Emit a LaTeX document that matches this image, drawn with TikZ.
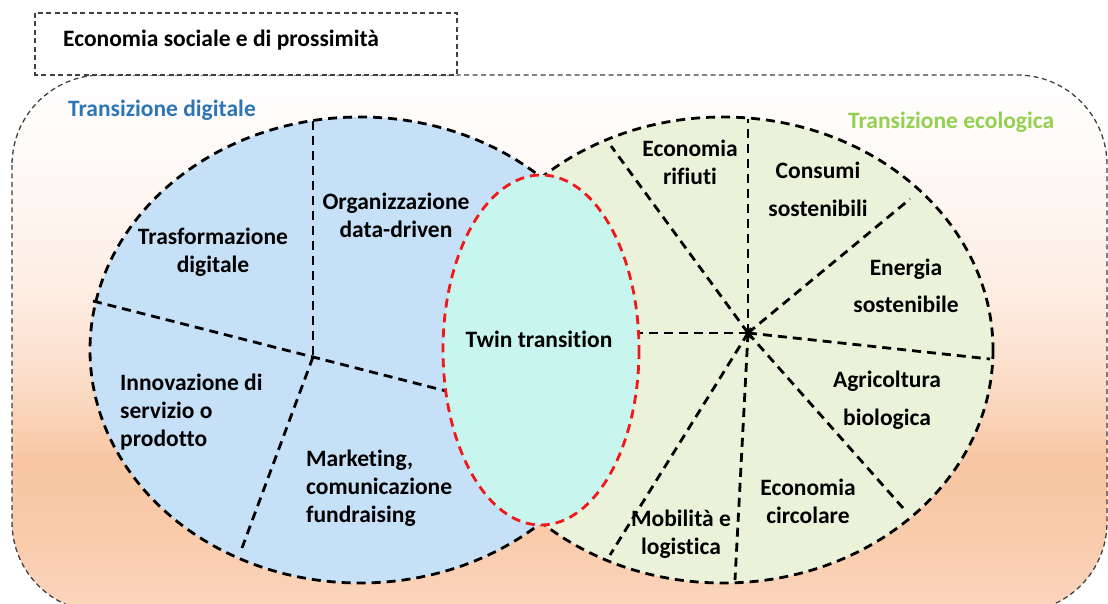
\documentclass[tikz,border=0pt]{standalone}
\usepackage{fontspec}
\setmainfont{Carlito}[Ligatures={NoCommon}]
\usetikzlibrary{calc}
\definecolor{bluefill}{HTML}{C5E0F7}
\definecolor{greenfill}{HTML}{EBF2DA}
\definecolor{cyanfill}{HTML}{C9F5EF}
\definecolor{titleblue}{HTML}{2E75B6}
\definecolor{titlegreen}{HTML}{92D050}
\definecolor{bordergray}{HTML}{404040}
\definecolor{twinred}{HTML}{F01818}
\definecolor{pkA}{HTML}{FBD6BF}
\definecolor{pkB}{HTML}{F9CBAB}
\definecolor{pkC}{HTML}{F8C6A2}
\definecolor{pkD}{HTML}{FBDECA}
\definecolor{pkE}{HTML}{FDEDE3}
\definecolor{pkF}{HTML}{FEF8F4}
\pgfdeclareverticalshading{bgshade}{100bp}{color(0bp)=(pkA); color(25bp)=(pkA); color(32bp)=(pkB); color(39bp)=(pkC); color(47bp)=(pkD); color(55bp)=(pkE); color(65bp)=(pkF); color(75bp)=(white); color(100bp)=(white)}
\begin{document}
\begin{tikzpicture}[x=1pt,y=-1pt,
  lbl/.style={font=\fontsize{23.5}{28}\selectfont\bfseries, align=center, inner sep=0pt, text=black},
  lbll/.style={lbl, align=left},
  thindash/.style={draw=bordergray, line width=1.3pt, dash pattern=on 5pt off 3.5pt},
  thickdash/.style={line width=2.8pt, dash pattern=on 9pt off 6pt},
  divider/.style={draw=black, thickdash}]
\useasboundingbox (0,0) rectangle (1108,604);
% background
\shade[shading=bgshade, rounded corners=90pt] (12,75) rectangle (1107,612);
\draw[thindash, rounded corners=90pt] (12,75) rectangle (1107,612);
% title box
\draw[thindash, fill=white] (35,13) rectangle (457,75);
\node[lbl, anchor=west] (title) at (63,40) {Economia sociale e di prossimità};
% blue ellipse
\coordinate (bcen) at (360,350);
\filldraw[fill=bluefill, draw=black, thickdash] (bcen) ellipse [x radius=270, y radius=233];
\coordinate (bc) at (313,357);
\coordinate (b1) at (313,121);
\coordinate (b2) at (93,301);
\coordinate (b3) at (450,392);
\coordinate (b4) at (242,548);
\draw[divider] (b1) -- (bc);
\draw[divider] (b2) -- (bc) -- (b3);
\draw[divider] (bc) -- (b4);
% green ellipse
\coordinate (gcen) at (723,350);
\filldraw[fill=greenfill, draw=black, thickdash] (gcen) ellipse [x radius=270, y radius=233];
\coordinate (gc) at (748,333);
\foreach \p [count=\i] in {(748,119),(611,146),(910,199),(990,359),(903,508),(735,580),(610,555),(630,333)}
  \draw[divider] (gc) -- \p;
\foreach \a in {0,60,120}
  \draw[line width=2pt] ($(gc)+(\a:6)$) -- ($(gc)+(\a+180:6)$);
% twin ellipse
\coordinate (rcen) at (541,350);
\filldraw[fill=cyanfill, draw=twinred, thickdash] (rcen) ellipse [x radius=98, y radius=175];
% titles
\node[lbl, anchor=west, text=titleblue] (tdig) at (68,110) {Transizione digitale};
\node[lbl, anchor=west, text=titlegreen] (teco) at (848,122) {Transizione ecologica};
% blue labels
\node[lbl] (l1) at (213,252) {Trasformazione\\digitale};
\node[lbl] (l2) at (396,215) {Organizzazione\\data-driven};
\node[lbll, anchor=west] (l3) at (120,412) {Innovazione di\\servizio o\\prodotto};
\node[lbll, anchor=west] (l4) at (306,488) {Marketing,\\comunicazione\\fundraising};
\node[lbl] (twin) at (539,339) {Twin transition};
% green labels
\node[lbl] (g1) at (690,162) {Economia\\rifiuti};
\node[lbl] (g2) at (818,189) {Consumi\\[10pt]sostenibili};
\node[lbl] (g3) at (906,286) {Energia\\[9pt]sostenibile};
\node[lbl] (g4) at (887,400) {Agricoltura\\[10pt]biologica};
\node[lbl] (g5) at (808,501) {Economia\\circolare};
\node[lbl] (g6) at (681,534) {Mobilità e\\logistica};
\end{tikzpicture}
\end{document}
